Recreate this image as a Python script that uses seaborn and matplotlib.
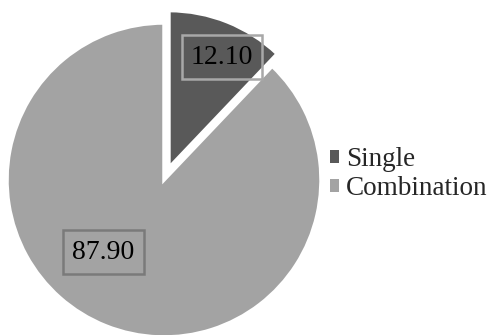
import matplotlib
matplotlib.use("Agg")
import matplotlib.pyplot as plt
import seaborn as sns
from matplotlib.patches import Patch

categories = ["Single", "Combination"]
values = [12.10, 87.90]
value_labels = ["12.10", "87.90"]

sns.set_theme(style="white")
plt.rcParams['font.family'] = ['Liberation Serif', 'DejaVu Serif']

colors = ["#595959", "#a3a3a3"]
box_edges = ["#a8a8a8", "#7a7a7a"]

fig = plt.figure(figsize=(4.92, 3.35), dpi=100)
W, H = 492, 335
cx, cy, r = 164, 180, 157
ax = fig.add_axes([(cx - r) / W, (H - cy - r) / H, 2 * r / W, 2 * r / H])
wedges, _ = ax.pie(values, colors=colors, startangle=90, counterclock=False,
                   explode=[0.085, 0], radius=1,
                   wedgeprops=dict(edgecolor="white", linewidth=2.5))
ax.set_xlim(-1, 1)
ax.set_ylim(-1, 1)
ax.set_aspect("auto")
ax.axis("off")

label_pos = [(0.369, 0.783), (-0.385, -0.459)]
for (x, y), lab, ec in zip(label_pos, value_labels, box_edges):
    ax.text(x, y, lab, ha="center", va="center", fontsize=20, color="black",
            bbox=dict(boxstyle="square,pad=0.33", facecolor="none",
                      edgecolor=ec, linewidth=1.8))

handles = [Patch(facecolor=c, edgecolor="none") for c in colors]
fig.legend(handles, categories, loc="center left",
           bbox_to_anchor=(330 / W, 1 - 174 / H), frameon=False,
           fontsize=19.5, handlelength=0.35, handleheight=0.35,
           handletextpad=0.25, labelspacing=0.15, borderpad=0, borderaxespad=0)

fig.savefig("out.png", dpi=100)
